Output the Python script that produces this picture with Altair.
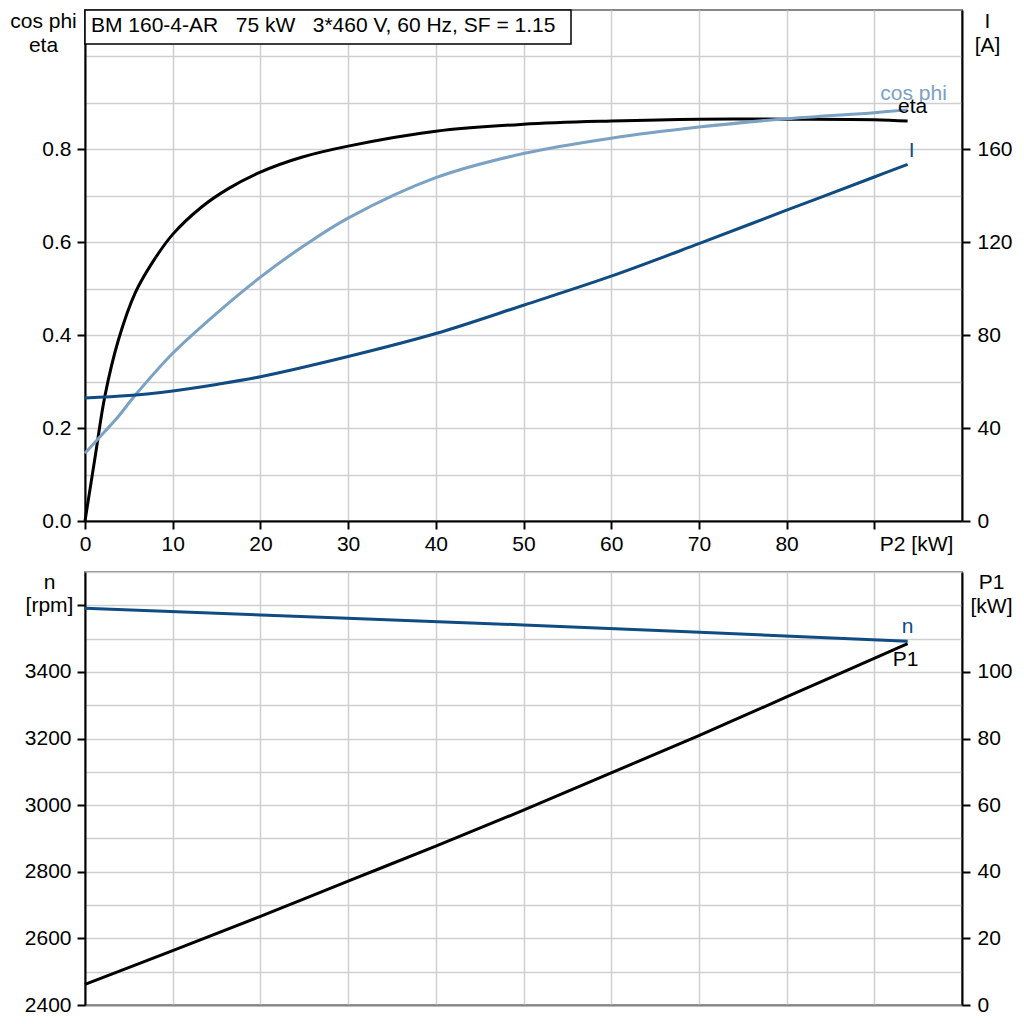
import altair as alt
import pandas as pd

# ---------------- data ----------------
p2_eta = [0, 1.14, 2.28, 3.8, 5.7, 7.6, 10, 13.3, 16.3, 20, 24.7, 30, 40, 50, 60, 70, 80, 90, 93.8]
eta = [0, 0.136, 0.27, 0.389, 0.49, 0.554, 0.617, 0.676, 0.715, 0.751, 0.783, 0.807, 0.839, 0.854,
       0.861, 0.865, 0.865, 0.864, 0.861]

p2_cos = [0, 2.28, 3.8, 5.7, 10, 15, 20, 25, 30, 40, 50, 60, 70, 80, 90, 93.8]
cos_phi = [0.146, 0.193, 0.225, 0.27, 0.361, 0.447, 0.525, 0.593, 0.652, 0.739, 0.791, 0.824, 0.848,
           0.866, 0.879, 0.885]

p2_i = [0, 5, 10, 15, 20, 30, 40, 50, 60, 70, 80, 90, 93.8]
current = [53.0, 54.0, 56.0, 58.8, 62.1, 70.8, 80.7, 92.9, 105.4, 119.4, 133.8, 148.1, 153.5]

p2_n = [0, 50, 93.8]
speed = [3591, 3541, 3492]

p2_p1 = [0, 10, 20, 30, 40, 50, 60, 70, 80, 93.8]
p1 = [6.2, 16.3, 26.6, 37.2, 47.7, 58.5, 69.7, 80.9, 92.5, 108.5]

x_ticks = [0, 10, 20, 30, 40, 50, 60, 70, 80, 90]
eta_grid = [0, 0.1, 0.2, 0.3, 0.4, 0.5, 0.6, 0.7, 0.8, 0.9, 1.0]
i_ticks = [0, 40, 80, 120, 160]
n_grid = [2400, 2500, 2600, 2700, 2800, 2900, 3000, 3100, 3200, 3300, 3400, 3500, 3600, 3700]
p1_ticks = [0, 20, 40, 60, 80, 100]

title_text = "BM 160-4-AR\u00a0\u00a0 75 kW\u00a0\u00a0 3*460 V, 60 Hz, SF = 1.15"

# ---------------- style ----------------
FONT = "Liberation Sans"
FS = 21
GRID = "#cfcfd3"
LIGHT = "#7ba1c3"
DARK = "#104c82"
W, H1, H2 = 877, 511, 433

df_eta = pd.DataFrame({"p2": p2_eta, "v": eta})
df_cos = pd.DataFrame({"p2": p2_cos, "v": cos_phi})
df_i = pd.DataFrame({"p2": p2_i, "v": current})
df_n = pd.DataFrame({"p2": p2_n, "v": speed})
df_p1 = pd.DataFrame({"p2": p2_p1, "v": p1})


def last(df, label):
    return pd.DataFrame({"p2": [df["p2"].iloc[-1]], "v": [df["v"].iloc[-1]], "t": [label]})


x_scale = alt.Scale(domain=[0, 100], nice=False, zero=False)

top_x_axis = alt.Axis(
    values=x_ticks, title=None, grid=True, gridColor=GRID, gridWidth=1.5,
    labelExpr="datum.value == 90 ? 'P2 [kW]' : datum.label",
    labelAlign={"condition": {"test": "datum.value == 90", "value": "left"}, "value": "center"},
    labelOffset={"condition": {"test": "datum.value == 90", "value": 5}, "value": 0},
    labelFlush=False, labelOverlap=False, labelPadding=4,
    domainColor="black", domainWidth=2, tickColor="black", tickWidth=2, tickSize=8,
)
bot_x_axis = alt.Axis(
    values=x_ticks, title=None, grid=True, gridColor=GRID, gridWidth=1.5,
    labels=False, ticks=False, domainColor="#888888", domainWidth=2,
)

eta_test = "datum.value < 0.85 && abs(datum.value * 5 - round(datum.value * 5)) < 0.001"
eta_axis = alt.Axis(
    values=eta_grid, grid=True, gridColor=GRID, gridWidth=1.5,
    labelExpr=f"({eta_test}) ? format(datum.value, '.1f') : ''",
    tickOpacity={"condition": {"test": eta_test, "value": 1}, "value": 0},
    labelOverlap=False, labelPadding=6, tickSize=8, tickWidth=2, tickColor="black",
    domainColor="black", domainWidth=2,
    title=["cos phi", "eta"], titleAngle=0, titleAlign="center", titleBaseline="alphabetic",
    titleX=-42, titleY=17, titleLineHeight=24,
)
i_axis = alt.Axis(
    values=i_ticks, grid=False, labelPadding=7, tickSize=8, tickWidth=2, tickColor="black",
    domainColor="black", domainWidth=2, labelOverlap=False,
    title=["I", "[A]"], titleAngle=0, titleAlign="center", titleBaseline="alphabetic",
    titleX=25, titleY=17, titleLineHeight=24,
)
n_test = "datum.value % 200 == 0"
n_axis = alt.Axis(
    values=n_grid, grid=True, gridColor=GRID, gridWidth=1.5,
    labelExpr="datum.value % 200 == 0 && datum.value <= 3400 ? format(datum.value, 'd') : ''",
    tickOpacity={"condition": {"test": n_test, "value": 1}, "value": 0},
    labelOverlap=False, labelPadding=6, tickSize=8, tickWidth=2, tickColor="black",
    domainColor="black", domainWidth=2,
    title=["n", "[rpm]"], titleAngle=0, titleAlign="center", titleBaseline="alphabetic",
    titleX=-36, titleY=16, titleLineHeight=23,
)
p1_axis = alt.Axis(
    values=p1_ticks, grid=False, labelPadding=7, tickSize=8, tickWidth=2, tickColor="black",
    domainColor="black", domainWidth=2, labelOverlap=False,
    title=["P1", "[kW]"], titleAngle=0, titleAlign="center", titleBaseline="alphabetic",
    titleX=29, titleY=16, titleLineHeight=24,
)

eta_scale = alt.Scale(domain=[0, 1.1], nice=False, zero=False)
i_scale = alt.Scale(domain=[0, 220], nice=False, zero=False)
n_scale = alt.Scale(domain=[2400, 3700], nice=False, zero=False)
p1_scale = alt.Scale(domain=[0, 130], nice=False, zero=False)


def line(df, color, yscale, yaxis, xaxis):
    return alt.Chart(df).mark_line(color=color, strokeWidth=3, interpolate="catmull-rom").encode(
        x=alt.X("p2:Q", scale=x_scale, axis=xaxis),
        y=alt.Y("v:Q", scale=yscale, axis=yaxis),
    )


def label(df, color, yscale, yaxis, xaxis, dx, dy):
    return alt.Chart(df).mark_text(
        color=color, font=FONT, fontSize=FS, align="center", baseline="alphabetic", dx=dx, dy=dy
    ).encode(
        x=alt.X("p2:Q", scale=x_scale, axis=xaxis),
        y=alt.Y("v:Q", scale=yscale, axis=yaxis),
        text="t:N",
    )


df_title = pd.DataFrame({"t": [title_text]})
title_box = alt.Chart(df_title).mark_rect(fill="white", stroke="black", strokeWidth=1.5).encode(
    x=alt.value(0), x2=alt.value(486), y=alt.value(0), y2=alt.value(34)
)
title_txt = alt.Chart(df_title).mark_text(
    font=FONT, fontSize=FS, align="left", baseline="alphabetic", color="black"
).encode(x=alt.value(6), y=alt.value(22), text="t:N")

left_top = alt.layer(
    line(df_eta, "black", eta_scale, eta_axis, top_x_axis),
    line(df_cos, LIGHT, eta_scale, eta_axis, top_x_axis),
    label(last(df_cos, "cos phi"), LIGHT, eta_scale, eta_axis, top_x_axis, 6, -10),
    label(last(df_eta, "eta"), "black", eta_scale, eta_axis, top_x_axis, 5, -8),
    title_box,
    title_txt,
)
right_top = alt.layer(
    line(df_i, DARK, i_scale, i_axis, top_x_axis),
    label(last(df_i, "I"), DARK, i_scale, i_axis, top_x_axis, 4, -7),
)
top = alt.layer(left_top, right_top).resolve_scale(y="independent").properties(width=W, height=H1)

left_bot = alt.layer(
    line(df_n, DARK, n_scale, n_axis, bot_x_axis),
    label(last(df_n, "n"), DARK, n_scale, n_axis, bot_x_axis, 0, -8),
)
right_bot = alt.layer(
    line(df_p1, "black", p1_scale, p1_axis, bot_x_axis),
    label(last(df_p1, "P1"), "black", p1_scale, p1_axis, bot_x_axis, -2, 22),
)
bottom = alt.layer(left_bot, right_bot).resolve_scale(y="independent").properties(width=W, height=H2)

chart = alt.vconcat(top, bottom, spacing=51, bounds="flush").properties(
    padding={"left": 0, "top": 0, "right": 0, "bottom": 0}
).configure_axis(
    labelFont=FONT, titleFont=FONT, labelFontSize=FS, titleFontSize=FS,
    titleFontWeight="normal", labelColor="black", titleColor="black",
).configure_view(stroke="#888888", strokeWidth=2)

chart.save("out.html", embed_options={"renderer": "svg", "actions": False})
